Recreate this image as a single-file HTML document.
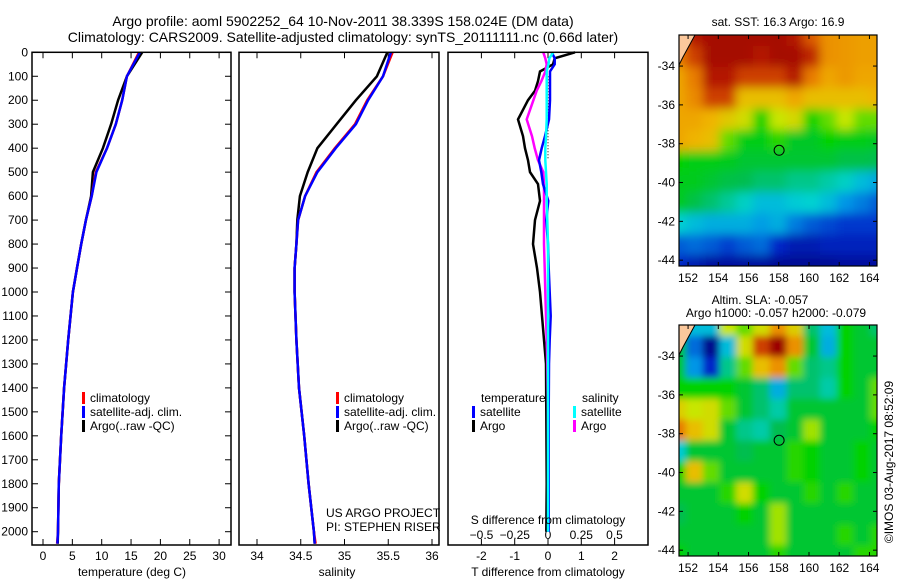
<!DOCTYPE html>
<html><head><meta charset="utf-8"><style>
html,body{margin:0;padding:0;background:#fff;}
svg{display:block;font-family:"Liberation Sans","DejaVu Sans",sans-serif;}
text{font-size:12px;fill:#000;}
</style></head><body>
<svg id="fig" width="900" height="580" viewBox="0 0 900 580" xmlns="http://www.w3.org/2000/svg">
<text x="343" y="26" text-anchor="middle" style="font-size:14px">Argo profile: aoml 5902252_64 10-Nov-2011 38.339S 158.024E (DM data)</text>
<text x="343" y="42" text-anchor="middle" style="font-size:14px">Climatology: CARS2009. Satellite-adjusted climatology: synTS_20111111.nc (0.66d later)</text>
<g id="p1"></g>
<g id="p2"></g>
<g id="p3"></g>
<g id="m1"></g>
<g id="m2"></g>
<text transform="translate(893,462) rotate(-90)" text-anchor="middle">©IMOS 03-Aug-2017 08:52:09</text>
</svg>
<script>
// ---------- data ----------
const depths = [0,100,200,300,400,500,600,700,800,900,1000,1200,1400,1600,1800,2000,2050];
const tempClim = [16.35,14.3,13.5,12.4,10.9,9.0,8.3,7.3,6.5,5.8,5.1,4.3,3.6,3.1,2.7,2.55,2.4];
const tempSat  = [16.5,14.3,13.5,12.4,10.9,9.1,8.3,7.3,6.5,5.8,5.1,4.3,3.6,3.1,2.7,2.55,2.45];
const tempArgo = [16.9,14.3,12.8,11.6,10.2,8.5,8.2,7.3,6.5,5.8,5.1,4.3,3.6,3.1,2.7,2.55,2.5];
const salClim = [35.55,35.44,35.26,35.12,34.89,34.68,34.55,34.47,34.45,34.43,34.43,34.45,34.48,34.54,34.59,34.65,34.67];
const salSat  = [35.53,35.44,35.27,35.13,34.9,34.69,34.55,34.47,34.45,34.43,34.43,34.45,34.48,34.54,34.59,34.65,34.66];
const salArgo = [35.49,35.37,35.13,34.91,34.69,34.58,34.49,34.46,34.45,34.43,34.43,34.45,34.48,34.54,34.59,34.65,34.66];
const diffDepths = [0,25,50,80,120,160,200,280,350,400,450,500,550,620,700,800,900,1000,1100,1200,1300,1500,1800,2000];
const dTArgo = [0.81,0.2,0.15,-0.24,-0.3,-0.39,-0.6,-0.9,-0.75,-0.69,-0.6,-0.54,-0.3,-0.24,-0.39,-0.45,-0.33,-0.24,-0.18,-0.12,-0.06,-0.05,-0.04,-0.05];
const dTSat  = [0.11,0.2,0.2,0.06,0.06,0.06,0.06,0.03,-0.09,-0.19,-0.27,-0.2,-0.15,0.01,-0.05,0.0,0.02,0.05,0.08,0.05,0.03,0.02,0.02,0.02];
const dSArgo = [-0.035,-0.02,-0.01,-0.02,-0.05,-0.085,-0.11,-0.16,-0.12,-0.1,-0.075,-0.035,-0.03,-0.03,-0.03,-0.03,-0.025,-0.02,-0.015,-0.01,-0.005,0.0,0.003,0.005];
const dSSat  = [0.04,0.01,0.004,-0.01,-0.01,-0.01,-0.01,-0.01,-0.015,-0.02,-0.02,-0.015,-0.01,-0.01,-0.005,0.0,0.0,0.0,0.0,0.0,0.0,0.0,0.0,0.0];
const depthTicks = [0,100,200,300,400,500,600,700,800,900,1000,1100,1200,1300,1400,1500,1600,1700,1800,1900,2000];
const tempTicks = [0,5,10,15,20,25,30];
const salTicks = [34,34.5,35,35.5,36];
const dTTicks = [-2,-1,0,1,2];
const dSTicks = [-0.5,-0.25,0,0.25,0.5];
const lonTicks = [152,154,156,158,160,162,164];
const latTicks = [-34,-36,-38,-40,-42,-44];
const floatLon = 158.024, floatLat = -38.339;
const sstGrid = [
[0.8,0.9,0.95,0.95,0.95,0.95,0.95,0.9,0.82,0.75,0.74,0.73,0.73],
[0.78,0.85,0.95,0.95,0.95,0.9,0.95,0.95,0.88,0.75,0.74,0.73,0.73],
[0.72,0.78,0.9,0.9,0.85,0.85,0.85,0.9,0.78,0.72,0.74,0.72,0.72],
[0.72,0.76,0.85,0.85,0.68,0.68,0.68,0.72,0.68,0.68,0.68,0.68,0.7],
[0.72,0.72,0.7,0.66,0.62,0.5,0.6,0.63,0.5,0.55,0.6,0.55,0.55],
[0.72,0.7,0.68,0.55,0.48,0.48,0.52,0.46,0.46,0.5,0.48,0.48,0.46],
[0.5,0.48,0.48,0.47,0.45,0.45,0.45,0.45,0.45,0.45,0.43,0.43,0.42],
[0.47,0.47,0.45,0.43,0.42,0.4,0.4,0.38,0.38,0.36,0.34,0.3,0.27],
[0.47,0.43,0.4,0.37,0.34,0.3,0.3,0.32,0.33,0.3,0.25,0.22,0.18],
[0.33,0.3,0.28,0.28,0.28,0.26,0.28,0.22,0.18,0.16,0.14,0.14,0.14],
[0.18,0.2,0.18,0.15,0.18,0.2,0.12,0.08,0.08,0.1,0.1,0.1,0.1],
[0.12,0.08,0.05,0.05,0.05,0.05,0.03,0.03,0.03,0.03,0.05,0.05,0.05]];
const slaGrid = [
[0.45,0.3,0.3,0.6,0.55,0.62,0.75,0.65,0.4,0.3,0.5,0.45,0.4],
[0.45,0.2,0.02,0.3,0.62,0.85,0.98,0.75,0.45,0.28,0.5,0.45,0.45],
[0.45,0.25,0.12,0.38,0.55,0.68,0.75,0.55,0.4,0.38,0.5,0.45,0.45],
[0.5,0.5,0.5,0.5,0.45,0.4,0.28,0.4,0.4,0.36,0.5,0.45,0.55],
[0.65,0.6,0.62,0.55,0.45,0.4,0.36,0.45,0.45,0.45,0.45,0.45,0.55],
[0.78,0.68,0.62,0.45,0.38,0.36,0.42,0.45,0.58,0.45,0.45,0.45,0.5],
[0.32,0.45,0.45,0.45,0.42,0.45,0.45,0.52,0.5,0.45,0.45,0.5,0.45],
[0.5,0.68,0.55,0.45,0.45,0.45,0.45,0.52,0.5,0.45,0.45,0.5,0.45],
[0.45,0.45,0.45,0.52,0.62,0.5,0.45,0.45,0.52,0.45,0.52,0.45,0.45],
[0.42,0.45,0.45,0.45,0.5,0.45,0.58,0.45,0.45,0.45,0.45,0.45,0.45],
[0.45,0.45,0.45,0.45,0.45,0.45,0.58,0.45,0.45,0.45,0.52,0.45,0.52],
[0.5,0.45,0.45,0.45,0.45,0.45,0.52,0.45,0.45,0.45,0.45,0.52,0.52]];

// ---------- helpers ----------
const NS = "http://www.w3.org/2000/svg";
function mk(parent, tag, attrs, txt){
  const e = document.createElementNS(NS, tag);
  for (const k in attrs) e.setAttribute(k, attrs[k]);
  if (txt !== undefined) e.textContent = txt;
  parent.appendChild(e); return e;
}
const yDepth = d => 52.3 + d * 0.2397;
const PT = 52.3, PB = 545;
const xT = v => 43 + v * 5.87;
const xS = v => 257 + (v - 34) * 87.5;
const xDT = v => 548 + v * 33.3;
const xDS = v => 548 + v * 133;

function frame(g, x0, x1, name){
  const r = mk(g,'rect',{x:x0,y:PT,width:x1-x0,height:PB-PT,fill:'none',stroke:'#000','stroke-width':1.5});
  
  
}
function line(g, xs, ds, xf, color, name, w){
  const pts = xs.map((v,i)=> xf(v).toFixed(1)+','+yDepth(ds[i]).toFixed(1)).join(' ');
  const p = mk(g,'polyline',{points:pts,fill:'none',stroke:color,'stroke-width':w||2.5,'stroke-linejoin':'miter'});
  
  
}
function legendItem(g, x, y, color, label, name){
  const r = mk(g,'rect',{x:x,y:y-10,width:3,height:12,fill:color});
  
  
  const t = mk(g,'text',{x:x+8,y:y},label);
  
  
}

// ---------- panel 1: temperature ----------
const p1 = document.getElementById('p1');
depthTicks.forEach(d=>{
  const t = mk(p1,'text',{x:28,y:yDepth(d)+4,'text-anchor':'end'},String(d));
  
  
  mk(p1,'line',{x1:32,x2:38,y1:yDepth(d),y2:yDepth(d),stroke:'#000'});
  mk(p1,'line',{x1:225,x2:231,y1:yDepth(d),y2:yDepth(d),stroke:'#000'});
});
tempTicks.forEach(v=>{
  mk(p1,'line',{x1:xT(v),x2:xT(v),y1:PT,y2:PT+6,stroke:'#000'});
  mk(p1,'line',{x1:xT(v),x2:xT(v),y1:PB-6,y2:PB,stroke:'#000'});
  const t = mk(p1,'text',{x:xT(v),y:560,'text-anchor':'middle'},String(v));
  
  
});
line(p1,tempArgo,depths,xT,'#000','temperature-argo-line');
line(p1,tempClim,depths,xT,'#f00','temperature-climatology-line');
line(p1,tempSat,depths,xT,'#00f','temperature-satellite-line');
frame(p1,32,231,'temperature-plot-frame');
legendItem(p1,82,402,'#f00','climatology','legend-climatology');
legendItem(p1,82,416,'#00f','satellite-adj. clim.','legend-satellite');
legendItem(p1,82,430,'#000','Argo(..raw -QC)','legend-argo');
{const t = mk(p1,'text',{x:132,y:576,'text-anchor':'middle'},'temperature (deg C)');

}

// ---------- panel 2: salinity ----------
const p2 = document.getElementById('p2');
salTicks.forEach(v=>{
  mk(p2,'line',{x1:xS(v),x2:xS(v),y1:PT,y2:PT+6,stroke:'#000'});
  mk(p2,'line',{x1:xS(v),x2:xS(v),y1:PB-6,y2:PB,stroke:'#000'});
  const t = mk(p2,'text',{x:xS(v),y:560,'text-anchor':'middle'},String(v));
  
  
});
line(p2,salArgo,depths,xS,'#000','salinity-argo-line');
line(p2,salClim,depths,xS,'#f00','salinity-climatology-line');
line(p2,salSat,depths,xS,'#00f','salinity-satellite-line');
frame(p2,239,439,'salinity-plot-frame');
legendItem(p2,336,402,'#f00','climatology','legend-climatology-2');
legendItem(p2,336,416,'#00f','satellite-adj. clim.','legend-satellite-2');
legendItem(p2,336,430,'#000','Argo(..raw -QC)','legend-argo-2');
{let t = mk(p2,'text',{x:326,y:517},'US ARGO PROJECT');


t = mk(p2,'text',{x:326,y:531},'PI: STEPHEN RISER');


t = mk(p2,'text',{x:337,y:576,'text-anchor':'middle'},'salinity');

}

// ---------- panel 3: differences ----------
const p3 = document.getElementById('p3');
dTTicks.forEach(v=>{
  mk(p3,'line',{x1:xDT(v),x2:xDT(v),y1:PT,y2:PT+6,stroke:'#000'});
  mk(p3,'line',{x1:xDT(v),x2:xDT(v),y1:PB-6,y2:PB,stroke:'#000'});
  const t = mk(p3,'text',{x:xDT(v),y:560,'text-anchor':'middle'},String(v));
  
  
});
dSTicks.forEach(v=>{
  const t = mk(p3,'text',{x:xDS(v),y:539,'text-anchor':'middle'},(v<0?'\u2212':'')+String(Math.abs(v)));
  
  
});
mk(p3,'line',{x1:548,x2:548,y1:yDepth(100),y2:yDepth(450),stroke:'#000','stroke-dasharray':'1,2'});
line(p3,dTArgo,diffDepths,xDT,'#000','t-diff-argo-line');
line(p3,dSArgo,diffDepths,xDS,'#f0f','s-diff-argo-line');
line(p3,dTSat,diffDepths,xDT,'#00f','t-diff-satellite-line');
line(p3,dSSat,diffDepths,xDS,'#0ff','s-diff-satellite-line');
frame(p3,448,648,'difference-plot-frame');
{let t = mk(p3,'text',{x:481,y:402},'temperature');


t = mk(p3,'text',{x:582,y:402},'salinity');

}
legendItem(p3,472,416,'#00f','satellite','legend-t-satellite');
legendItem(p3,472,430,'#000','Argo','legend-t-argo');
legendItem(p3,573,416,'#0ff','satellite','legend-s-satellite');
legendItem(p3,573,430,'#f0f','Argo','legend-s-argo');
{let t = mk(p3,'text',{x:548,y:524,'text-anchor':'middle'},'S difference from climatology');


t = mk(p3,'text',{x:548,y:576,'text-anchor':'middle'},'T difference from climatology');

}

// ---------- maps ----------
const cmapStops = [
 [0.0,[0,0,130]],[0.12,[0,40,200]],[0.25,[0,150,230]],[0.33,[0,210,210]],
 [0.42,[0,190,80]],[0.5,[0,210,0]],[0.6,[200,230,0]],[0.7,[240,180,0]],
 [0.8,[230,110,0]],[0.9,[180,20,0]],[1.0,[150,0,0]]];
function cmap(v){
  v = Math.max(0,Math.min(1,v));
  for (let i=1;i<cmapStops.length;i++){
    const [a,ca] = cmapStops[i-1], [b,cb] = cmapStops[i];
    if (v<=b){
      const t=(v-a)/(b-a);
      return 'rgb('+ca.map((c,k)=>Math.round(c+(cb[k]-c)*t)).join(',')+')';
    }
  }
  return 'rgb(150,0,0)';
}
function drawMap(id, top, grid, name, blur){
  const g = document.getElementById(id);
  const L=679, R=877, T=top, B=top+231;
  const lon0=151.4, lon1=164.5, lat0=-32.4, lat1=-44.3;
  const xL = lon => L + (lon-lon0)/(lon1-lon0)*(R-L);
  const yL = lat => T + (lat-lat0)/(lat1-lat0)*(B-T);
  const cid = id+'clip';
  const defs = mk(g,'defs',{});
  const cp = mk(defs,'clipPath',{id:cid});
  mk(cp,'rect',{x:L,y:T,width:R-L,height:B-T});
  const f = mk(defs,'filter',{id:id+'blur',x:'-5%',y:'-5%',width:'110%',height:'110%'});
  mk(f,'feGaussianBlur',{stdDeviation:blur});
  const cells = mk(g,'g',{'clip-path':'url(#'+cid+')'});
  const inner = mk(cells,'g',{filter:'url(#'+id+'blur)'});
  const nr = grid.length, nc = grid[0].length;
  const cw = (R-L+20)/nc, ch = (B-T+20)/nr;
  grid.forEach((row,i)=>row.forEach((v,j)=>{
    const c = mk(inner,'rect',{x:(L-10+j*cw).toFixed(1),y:(T-10+i*ch).toFixed(1),width:(cw+0.6).toFixed(1),height:(ch+0.6).toFixed(1),fill:cmap(v)});
    
    
  }));
  const land = mk(cells,'polygon',{points:`${L},${T} ${L+16},${T} ${L+4},${T+22} ${L},${T+30}`,fill:'#fbc89c',stroke:'#000','stroke-width':1});
  
  
  const fr = mk(g,'rect',{x:L,y:T,width:R-L,height:B-T,fill:'none',stroke:'#000','stroke-width':1.2});
  
  
  lonTicks.forEach(v=>{
    mk(g,'line',{x1:xL(v),x2:xL(v),y1:T,y2:T+4,stroke:'#000'});
    mk(g,'line',{x1:xL(v),x2:xL(v),y1:B-4,y2:B,stroke:'#000'});
    const t = mk(g,'text',{x:xL(v),y:B+16,'text-anchor':'middle'},String(v));
    
    
  });
  latTicks.forEach(v=>{
    mk(g,'line',{x1:L,x2:L+4,y1:yL(v),y2:yL(v),stroke:'#000'});
    mk(g,'line',{x1:R-4,x2:R,y1:yL(v),y2:yL(v),stroke:'#000'});
    const t = mk(g,'text',{x:L-4,y:yL(v)+4,'text-anchor':'end'},'-'+Math.abs(v));
    
    
  });
  const c = mk(g,'circle',{cx:xL(floatLon),cy:yL(floatLat),r:5,fill:'none',stroke:'#000','stroke-width':1});
  
  
}
drawMap('m1',35,sstGrid,'sst-map',5);
drawMap('m2',325,slaGrid,'sla-map',3.5);
{const m1 = document.getElementById('m1');
let t = mk(m1,'text',{x:778,y:26,'text-anchor':'middle'},'sat. SST: 16.3 Argo: 16.9');


t = mk(m1,'text',{x:760,y:304,'text-anchor':'middle'},'Altim. SLA: -0.057');


t = mk(m1,'text',{x:776,y:317,'text-anchor':'middle'},'Argo h1000: -0.057 h2000: -0.079');

}
</script>
</body></html>
